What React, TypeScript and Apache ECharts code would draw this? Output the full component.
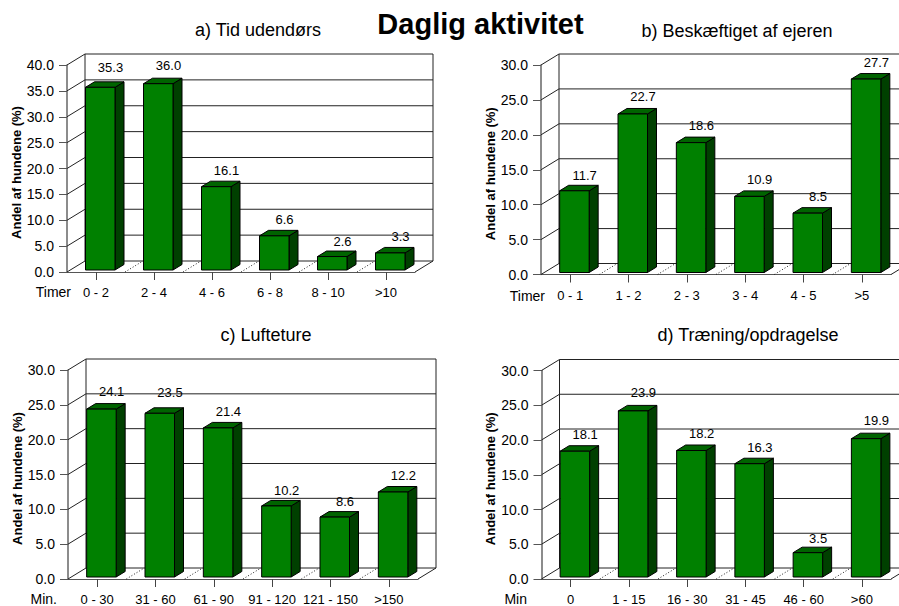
import React, { useEffect, useRef } from "react";
import * as echarts from "echarts";

const mainTitle = "Daglig aktivitet";
const yAxisName = "Andel af hundene (%)";

const titleA = "a) Tid udendørs";
const unitA = "Timer";
const categoriesA = ["0 - 2", "2 - 4", "4 - 6", "6 - 8", "8 - 10", ">10"];
const valuesA = [35.3, 36.0, 16.1, 6.6, 2.6, 3.3];
const maxA = 40;

const titleB = "b) Beskæftiget af ejeren";
const unitB = "Timer";
const categoriesB = ["0 - 1", "1 - 2", "2 - 3", "3 - 4", "4 - 5", ">5"];
const valuesB = [11.7, 22.7, 18.6, 10.9, 8.5, 27.7];
const maxB = 30;

const titleC = "c) Lufteture";
const unitC = "Min.";
const categoriesC = ["0 - 30", "31 - 60", "61 - 90", "91 - 120", "121 - 150", ">150"];
const valuesC = [24.1, 23.5, 21.4, 10.2, 8.6, 12.2];
const maxC = 30;

const titleD = "d) Træning/opdragelse";
const unitD = "Min";
const categoriesD = ["0", "1 - 15", "16 - 30", "31 - 45", "46 - 60", ">60"];
const valuesD = [18.1, 23.9, 18.2, 16.3, 3.5, 19.9];
const maxD = 30;

const FONT = '"Liberation Sans", Arial, sans-serif';
const DEPTH_X = 18;
const DEPTH_Y = 11;

const panels = [
  { title: titleA, unit: unitA, cats: categoriesA, vals: valuesA, max: maxA, x0: 67, x1: 415, top: 65, base: 272, tx: 258, ty: 30, ux: 71, uy: 292, lifts: [14, 13, 11, 11, 10, 11] },
  { title: titleB, unit: unitB, cats: categoriesB, vals: valuesB, max: maxB, x0: 541, x1: 891, top: 65, base: 274.5, tx: 737, ty: 31, ux: 545, uy: 296, lifts: [10, 12, 12, 11, 11, 11] },
  { title: titleC, unit: unitC, cats: categoriesC, vals: valuesC, max: maxC, x0: 68, x1: 418, top: 370, base: 580, tx: 266, ty: 335, ux: 57, uy: 599, lifts: [12, 15, 11, 10, 10, 11] },
  { title: titleD, unit: unitD, cats: categoriesD, vals: valuesD, max: maxD, x0: 541.5, x1: 891, top: 370.5, base: 579, tx: 748, ty: 335, ux: 527, uy: 599, lifts: [11, 13, 12, 11, 9, 13] },
];

const line = (x1: number, y1: number, x2: number, y2: number, stroke = "#000", extra: any = {}) => ({
  type: "line",
  shape: { x1, y1, x2, y2 },
  style: { stroke, lineWidth: 1, ...extra },
});

function buildOption() {
  const grid: any[] = [];
  const xAxis: any[] = [];
  const yAxis: any[] = [];
  const series: any[] = [];
  const title: any[] = [
    { text: mainTitle, left: 475.5, top: 4, textAlign: "center", textStyle: { fontFamily: FONT, fontSize: 29, fontWeight: "bold", color: "#000" } },
  ];
  const graphic: any[] = [];

  panels.forEach((p, k) => {
    grid.push({ left: p.x0, top: p.top, width: p.x1 - p.x0, height: p.base - p.top, containLabel: false });
    xAxis.push({
      type: "category",
      gridIndex: k,
      data: p.cats,
      axisLine: { show: true, lineStyle: { color: "#555", width: 1 } },
      axisTick: { show: true, alignWithLabel: true, length: 8, inside: false, interval: 0, lineStyle: { color: "#444" } },
      axisLabel: { show: true, interval: 0, margin: 14, hideOverlap: false, fontFamily: FONT, fontSize: 13, color: "#000" },
      splitLine: { show: false },
    });
    yAxis.push({
      type: "value",
      gridIndex: k,
      min: 0,
      max: p.max,
      interval: 5,
      name: yAxisName,
      nameLocation: "middle",
      nameGap: 42,
      nameRotate: 90,
      nameTextStyle: { fontFamily: FONT, fontSize: 13, fontWeight: "bold", color: "#000", padding: [0, 8, 0, 0] },
      axisLine: { show: true, lineStyle: { color: "#666", width: 1.5 } },
      axisTick: { show: true, length: 8, lineStyle: { color: "#555" } },
      axisLabel: { margin: 13, fontFamily: FONT, fontSize: 14, color: "#000", formatter: (v: number) => v.toFixed(1) },
      splitLine: { show: false },
    });
    title.push({ text: p.title, left: p.tx - 5, top: p.ty - 14, textAlign: "center", textStyle: { fontFamily: FONT, fontSize: 18, fontWeight: "normal", color: "#000" } });
    graphic.push({ type: "text", x: p.ux, y: p.uy, style: { text: p.unit, font: `14px ${FONT}`, fill: "#000", textAlign: "right", textVerticalAlign: "middle" } });

    const ticks: number[] = [];
    for (let t = 0; t <= p.max; t += 5) ticks.push(t);

    // Back wall, left wall, floor
    series.push({
      type: "custom",
      xAxisIndex: k,
      yAxisIndex: k,
      clip: false,
      z: 1,
      silent: true,
      data: [[0, 0]],
      encode: { x: 0, y: 1 },
      renderItem: (_: any, api: any) => {
        const band = api.size([1, 0])[0];
        const left = api.coord([0, 0])[0] - band / 2;
        const right = left + band * p.cats.length;
        const base = api.coord([0, 0])[1];
        const children: any[] = [];
        ticks.forEach((t) => {
          const y = api.coord([0, t])[1];
          children.push(line(left, y, left + DEPTH_X, y - DEPTH_Y, "#222"));
          children.push(line(left + DEPTH_X, y - DEPTH_Y, right + DEPTH_X, y - DEPTH_Y, "#222"));
        });
        const topY = api.coord([0, p.max])[1];
        children.push(line(left + DEPTH_X, topY - DEPTH_Y, left + DEPTH_X, base - DEPTH_Y, "#222"));
        children.push(line(right + DEPTH_X, topY - DEPTH_Y, right + DEPTH_X, base - DEPTH_Y, "#222"));
        children.push(line(right, base, right + DEPTH_X, base - DEPTH_Y, "#222"));
        for (let i = 1; i < p.cats.length; i++) {
          const bx = left + band * i;
          children.push(line(bx, base, bx + DEPTH_X, base - DEPTH_Y, "#222", { lineDash: [1, 2] }));
        }
        return { type: "group", children };
      },
    });

    // Bars
    series.push({
      type: "custom",
      xAxisIndex: k,
      yAxisIndex: k,
      clip: false,
      z: 2,
      data: p.vals.map((v, i) => [i, v]),
      encode: { x: 0, y: 1 },
      renderItem: (_: any, api: any) => {
        const i = api.value(0);
        const v = api.value(1);
        const [cx, yTopRaw] = api.coord([i, v]);
        const yBase = api.coord([i, 0])[1] - 2;
        const yTop = yTopRaw - 2;
        const l = cx - 10.5;
        const r = cx + 19;
        const dx = 9;
        const dy = 5.5;
        const stroke = { stroke: "#000", lineWidth: 1 };
        return {
          type: "group",
          children: [
            { type: "polygon", shape: { points: [[r, yBase], [r + dx, yBase - dy], [r + dx, yTop - dy], [r, yTop]] }, style: { fill: "#004000", ...stroke } },
            { type: "polygon", shape: { points: [[l, yTop], [l + dx, yTop - dy], [r + dx, yTop - dy], [r, yTop]] }, style: { fill: "#006400", ...stroke } },
            { type: "rect", shape: { x: l, y: yTop, width: r - l, height: yBase - yTop }, style: { fill: "#008000", ...stroke } },
            {
              type: "text",
              x: cx + 14.5,
              y: yTop - dy - p.lifts[i],
              style: { text: v.toFixed(1), font: `13px ${FONT}`, fill: "#000", textAlign: "center", textVerticalAlign: "middle" },
            },
          ],
        };
      },
    });
  });

  return { animation: false, backgroundColor: "#fff", title, grid, xAxis, yAxis, series, graphic };
}

export default function App() {
  const ref = useRef<HTMLDivElement>(null);
  useEffect(() => {
    const chart = echarts.init(ref.current!, undefined, { renderer: "svg" });
    chart.setOption(buildOption() as any);
    return () => chart.dispose();
  }, []);
  return <div ref={ref} style={{ position: "absolute", left: 0, top: 0, width: 899, height: 606 }} />;
}
